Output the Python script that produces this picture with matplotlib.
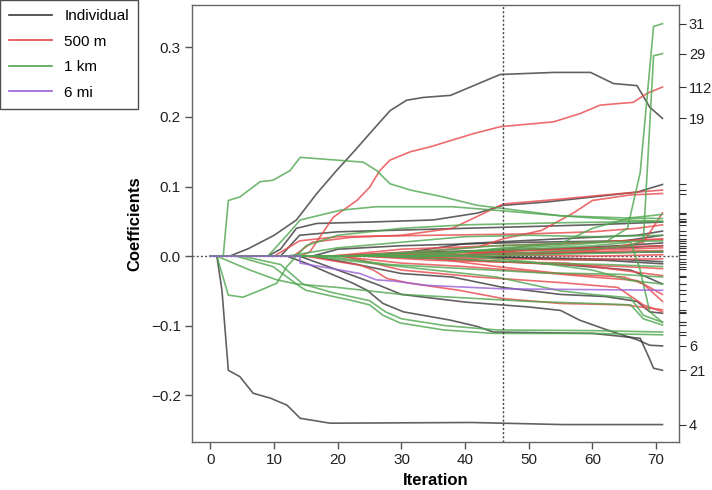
import matplotlib
matplotlib.use("Agg")
import matplotlib.pyplot as plt
from matplotlib.lines import Line2D

plt.rcParams['font.family'] = ['Liberation Sans', 'DejaVu Sans']

# ------------------------------------------------------------
# Coefficient paths.
# Each path: (right-axis label, iterations, coefficient values)
# ------------------------------------------------------------

individual_paths = [
    ("19", [0, 3, 6, 10, 13.5, 16.7, 19.8, 22.4, 25, 28.2, 30.8, 33.4, 37.7, 45.5, 54, 59.7, 63.3, 67, 69, 71],
           [0, 0, 0.011, 0.030, 0.052, 0.090, 0.123, 0.149, 0.176, 0.209, 0.224, 0.228, 0.231, 0.261, 0.264, 0.264, 0.248, 0.245, 0.214, 0.198]),
    ("4",  [0, 1, 1.8, 2.8, 4.6, 6.7, 9.4, 12, 14.1, 18.8, 41, 55.4, 71],
           [0, 0, -0.049, -0.164, -0.173, -0.197, -0.204, -0.214, -0.233, -0.240, -0.239, -0.242, -0.242]),
    ("21", [0, 12, 15, 18.8, 22.4, 24.6, 27.1, 30.3, 37.7, 41.9, 44.4, 60, 67.5, 68.6, 69.6, 71],
           [0, 0, -0.010, -0.025, -0.039, -0.049, -0.068, -0.080, -0.092, -0.101, -0.109, -0.111, -0.118, -0.140, -0.161, -0.164]),
    ("6",  [0, 14, 20, 26, 30, 40, 50, 55, 58, 62.3, 67, 69, 71],
           [0, 0, -0.020, -0.040, -0.055, -0.066, -0.073, -0.078, -0.092, -0.106, -0.120, -0.128, -0.129]),
    ("",   [0, 9, 11, 13.5, 16.7, 25, 35, 42, 46, 53, 60, 67, 71],
           [0, 0, 0.010, 0.040, 0.047, 0.049, 0.052, 0.062, 0.073, 0.078, 0.085, 0.092, 0.103]),
    ("",   [0, 11, 14, 20, 40, 60, 71],
           [0, 0, 0.030, 0.035, 0.040, 0.045, 0.049]),
    ("",   [0, 16, 20, 30, 50, 65, 71],
           [0, 0, 0.010, 0.015, 0.020, 0.022, 0.030]),
    ("",   [0, 20, 30, 50, 65, 71],
           [0, 0, 0.005, 0.010, 0.012, 0.015]),
    ("",   [0, 25, 40, 55, 66, 71],
           [0, 0, -0.005, -0.012, -0.020, -0.040]),
    ("",   [0, 16, 22, 30, 38, 46, 55, 62, 67, 69, 71],
           [0, 0, -0.010, -0.025, -0.030, -0.045, -0.055, -0.058, -0.065, -0.080, -0.082]),
    ("",   [0, 30, 45, 60, 71],
           [0, 0, 0.003, 0.005, 0.006]),
    ("",   [0, 35, 50, 65, 71],
           [0, 0, -0.002, -0.005, -0.008]),
    ("",   [0, 38, 48, 58, 66, 71],
           [0, 0, 0.008, 0.012, 0.016, 0.019]),
    ("",   [0, 42, 52, 62, 71],
           [0, 0, -0.004, -0.006, -0.011]),
    ("",   [0, 27, 40, 55, 67, 71],
           [0, 0, 0.018, 0.025, 0.030, 0.036]),
]

m500_paths = [
    ("112", [0, 14, 15.6, 19.3, 23, 25, 26.6, 28.2, 31.4, 34.5, 37.7, 41.3, 45.5, 53.9, 58.1, 61.2, 66.4, 68.6, 71],
            [0, 0, 0.006, 0.056, 0.080, 0.099, 0.123, 0.138, 0.150, 0.157, 0.166, 0.176, 0.186, 0.193, 0.205, 0.217, 0.221, 0.234, 0.243]),
    ("", [0, 13, 16, 22, 30, 38, 46, 55, 62, 67, 71],
         [0, 0, 0.020, 0.027, 0.030, 0.040, 0.075, 0.082, 0.088, 0.092, 0.095]),
    ("", [0, 18, 25, 35, 42, 46, 52, 57, 60, 66, 71],
         [0, 0, 0.003, 0.008, 0.013, 0.025, 0.037, 0.062, 0.080, 0.088, 0.090]),
    ("", [0, 10, 14, 20, 35, 50, 60, 67, 71],
         [0, 0, 0.022, 0.028, 0.030, 0.032, 0.035, 0.040, 0.045]),
    ("", [0, 19, 30, 45, 60, 71],
         [0, 0, 0.010, 0.015, 0.020, 0.025]),
    ("", [0, 22, 35, 50, 65, 71],
         [0, 0, 0.004, 0.008, 0.010, 0.012]),
    ("", [0, 25, 40, 55, 71],
         [0, 0, -0.003, -0.005, -0.004]),
    ("", [0, 28, 45, 60, 71],
         [0, 0, 0.002, 0.000, 0.002]),
    ("", [0, 15, 20, 23.5, 25.6, 27.7, 31.4, 39, 46, 55, 65, 71],
         [0, 0, -0.008, -0.013, -0.020, -0.032, -0.039, -0.049, -0.061, -0.068, -0.070, -0.077]),
    ("", [0, 20, 30, 40, 50, 60, 67, 71],
         [0, 0, -0.010, -0.015, -0.022, -0.030, -0.035, -0.055]),
    ("", [0, 24, 35, 45, 55, 65, 71],
         [0, 0, -0.006, -0.008, -0.012, -0.015, -0.018]),
    ("", [0, 30, 40, 50, 60, 68, 71],
         [0, 0, 0.006, 0.005, 0.008, 0.020, 0.062]),
    ("", [0, 32, 45, 55, 65, 68, 71],
         [0, 0, -0.015, -0.025, -0.030, -0.040, -0.065]),
    ("", [0, 36, 50, 60, 71],
         [0, 0, 0.010, 0.012, 0.015]),
    ("", [0, 26, 38, 50, 62, 71],
         [0, 0, 0.006, 0.004, 0.007, 0.008]),
    ("", [0, 33, 44, 56, 66, 71],
         [0, 0, -0.008, -0.010, -0.022, -0.028]),
    ("", [0, 40, 50, 60, 66, 71],
         [0, 0, 0.015, 0.020, 0.022, 0.024]),
    ("", [0, 21, 30, 42, 55, 64, 68, 71],
         [0, 0, -0.020, -0.030, -0.038, -0.045, -0.070, -0.080]),
]

km1_paths = [
    ("", [0, 2, 2.8, 4.6, 7.8, 9.8, 12.5, 14.1, 19.8, 24, 26.1, 28.2, 31.4, 36.6, 41.9, 45.5, 55, 65, 71],
         [0, 0, 0.080, 0.085, 0.107, 0.109, 0.123, 0.142, 0.138, 0.135, 0.123, 0.104, 0.095, 0.085, 0.073, 0.069, 0.058, 0.055, 0.054]),
    ("", [0, 1, 2.8, 5.1, 7.8, 10.4, 12, 13.5, 15, 20, 30, 40, 55, 71],
         [0, 0, -0.056, -0.059, -0.049, -0.039, -0.015, 0.0, 0.015, 0.030, 0.040, 0.045, 0.048, 0.050]),
    ("", [0, 9, 12, 14.1, 20.4, 26, 38, 46, 55, 65, 71],
         [0, 0, 0.030, 0.052, 0.066, 0.071, 0.071, 0.065, 0.058, 0.052, 0.050]),
    ("", [0, 4, 9.8, 14.1, 15, 19.3, 21.9, 25, 27.1, 29.8, 36.6, 44.4, 60, 71],
         [0, 0, -0.015, -0.044, -0.049, -0.058, -0.063, -0.070, -0.085, -0.096, -0.106, -0.111, -0.111, -0.113]),
    ("", [0, 5, 11, 14.5, 19, 22, 25, 27.5, 30, 37, 45, 60, 71],
         [0, 0, -0.012, -0.040, -0.052, -0.058, -0.064, -0.080, -0.090, -0.100, -0.106, -0.107, -0.109]),
    ("", [0, 1, 6.2, 10.4, 13.5, 20, 30, 40, 50, 60, 66, 68, 71],
         [0, 0, -0.020, -0.034, -0.040, -0.045, -0.055, -0.060, -0.065, -0.068, -0.070, -0.090, -0.099]),
    ("", [0, 20, 35, 50, 60, 66, 67.5, 69, 71],
         [0, 0, 0.005, 0.010, 0.015, 0.020, -0.020, -0.080, -0.095]),
    ("31", [0, 30, 45, 55, 62, 65.5, 67.5, 69.6, 71],
           [0, 0, 0.010, 0.015, 0.020, 0.040, 0.120, 0.330, 0.334]),
    ("29", [0, 35, 50, 60, 66, 68, 69.6, 71],
           [0, 0, 0.005, 0.010, 0.015, 0.023, 0.288, 0.291]),
    ("", [0, 12, 20, 30, 40, 50, 60, 71],
         [0, 0, 0.012, 0.020, 0.028, 0.030, 0.028, 0.030]),
    ("", [0, 16, 25, 35, 45, 50, 55, 60, 66, 68, 71],
         [0, 0, -0.010, -0.020, -0.030, -0.040, -0.050, -0.055, -0.060, -0.085, -0.095]),
    ("", [0, 22, 35, 45, 55, 60, 66, 71],
         [0, 0, 0.008, 0.015, 0.018, 0.040, 0.055, 0.060]),
    ("", [0, 26, 40, 52, 62, 71],
         [0, 0, -0.005, -0.010, -0.012, -0.015]),
    ("", [0, 40, 50, 60, 66, 71],
         [0, 0, -0.008, -0.020, -0.035, -0.040]),
    ("", [0, 44, 55, 65, 71],
         [0, 0, 0.003, 0.005, 0.007]),
    ("", [0, 18, 28, 40, 52, 64, 71],
         [0, 0, -0.012, -0.018, -0.024, -0.026, -0.030]),
    ("", [0, 34, 46, 58, 71],
         [0, 0, 0.012, 0.020, 0.022]),
]

mi6_paths = [
    ("", [0, 14, 14.1, 20.4, 23.5, 26, 29, 34, 46, 71],
         [0, 0, -0.010, -0.020, -0.025, -0.034, -0.036, -0.042, -0.047, -0.049]),
]

group_names = ["Individual", "500 m", "1 km", "6 mi"]
selected_iteration = 46
x_ticks = [0, 10, 20, 30, 40, 50, 60, 70]
y_ticks = [-0.2, -0.1, 0.0, 0.1, 0.2, 0.3]

# ------------------------------------------------------------
# Plot
# ------------------------------------------------------------
colors = ["#3a3a3a", "#e8474a", "#4fa64f", "#9b5fd8"]
groups = [individual_paths, m500_paths, km1_paths, mi6_paths]

fig = plt.figure(figsize=(7.12, 4.9), dpi=100)
ax = fig.add_axes([0.2697, 0.098, 0.684, 0.892])

ax.axhline(0, color="#555555", lw=1.0, ls=(0, (1.5, 1.5)), zorder=0)
ax.axvline(selected_iteration, color="#444444", lw=1.0, ls=(0, (1.5, 1.5)), zorder=5)

final_vals, final_labels = [], []
for paths, col in zip(groups, colors):
    for label, xs, ys in paths:
        ax.plot(xs, ys, color=col, lw=1.2, alpha=0.8, solid_joinstyle="miter")
        final_vals.append(ys[-1])
        final_labels.append(label)

ax.set_xlim(-2.9, 73.6)
ax.set_ylim(-0.267, 0.361)
ax.set_xticks(x_ticks)
ax.set_yticks(y_ticks)
ax.set_yticklabels([f"{v:.1f}".replace("-", "\u2212") for v in y_ticks])
ax.tick_params(direction="out", length=5, width=1, color="#555555",
               labelsize=11, labelcolor="#222222", pad=3)
for sp in ax.spines.values():
    sp.set_color("#666666")
    sp.set_linewidth(1.0)

ax.set_xlabel("Iteration", fontsize=12, fontweight="bold", labelpad=4)
ax.set_ylabel("Coefficients", fontsize=12, fontweight="bold", labelpad=6)

# right axis: final coefficient of each variable, only the big ones named
ax2 = ax.twinx()
ax2.set_ylim(ax.get_ylim())
ax2.set_yticks(final_vals)
ax2.set_yticklabels(final_labels)
ax2.tick_params(direction="out", length=5, width=0.8, color="#333333",
                labelsize=10.5, labelcolor="#222222", pad=2)
for sp in ax2.spines.values():
    sp.set_visible(False)

handles = [Line2D([], [], color=c, lw=1.2) for c in colors]
leg = fig.legend(handles, group_names, loc="upper left",
                 bbox_to_anchor=(0.0, 1.0), fontsize=11,
                 frameon=True, fancybox=False, edgecolor="#222222",
                 handlelength=2.8, labelspacing=0.75, borderpad=0.6,
                 borderaxespad=0.0, handletextpad=0.8)
leg.get_frame().set_linewidth(1.0)

plt.savefig("out.png", dpi=100)
